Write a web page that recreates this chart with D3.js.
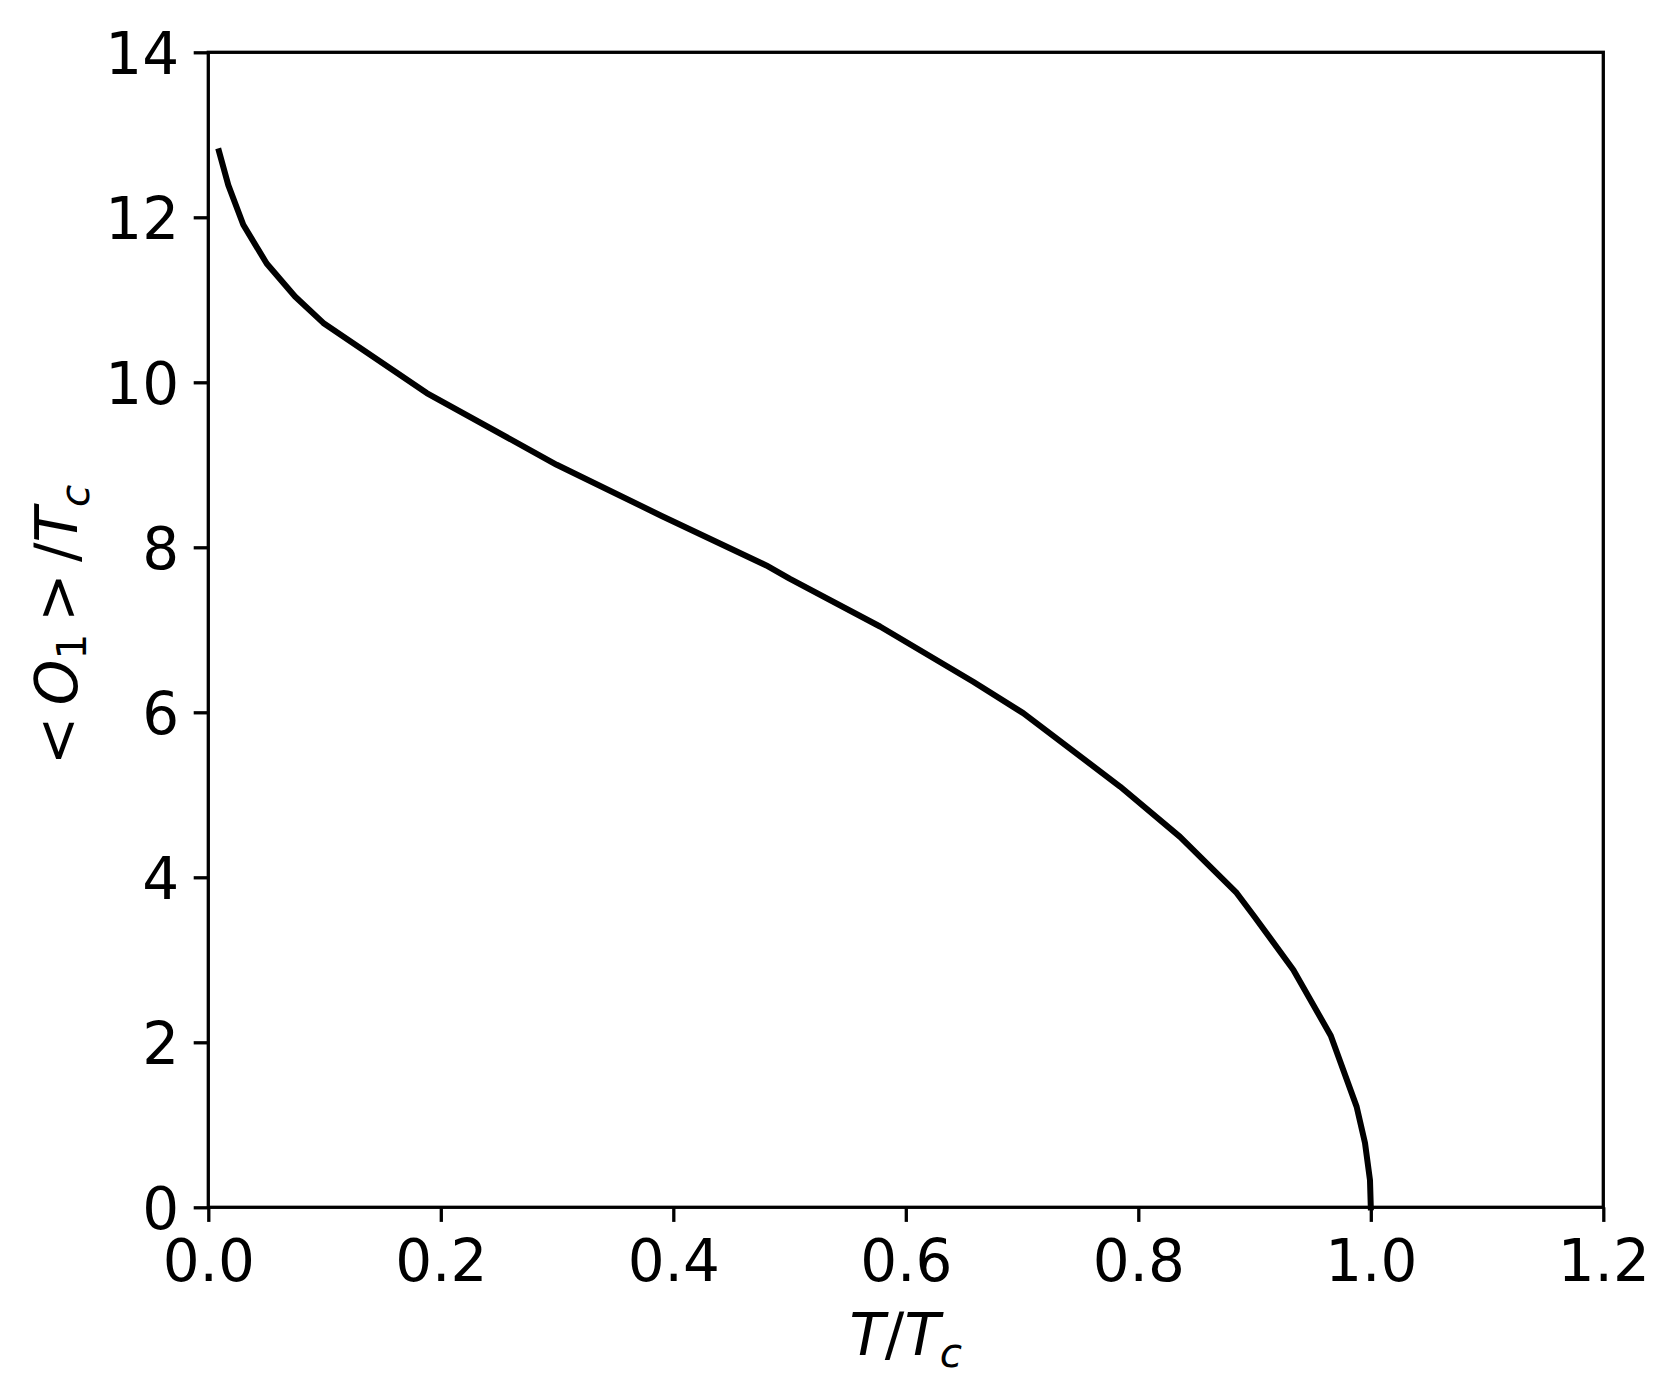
<!DOCTYPE html>
<html>
<head>
<meta charset="utf-8">
<script src="https://cdn.jsdelivr.net/npm/d3@7"></script>
<style>
  html, body { margin: 0; padding: 0; background: #fff; }
  svg { display: block; }
  text { font-family: "DejaVu Sans", sans-serif; fill: #000; }
</style>
</head>
<body>
<svg id="chart" width="1679" height="1398"></svg>
<script>
// Data
const tValues = [0.0092, 0.0172, 0.0301, 0.0502, 0.0746, 0.0989, 0.1879, 0.2997, 0.39, 0.48, 0.5, 0.5778, 0.658, 0.701, 0.7843, 0.8359, 0.8846, 0.899, 0.9333, 0.9656, 0.9878, 0.995, 0.9993, 1.0];
const oValues = [12.80, 12.39, 11.91, 11.44, 11.04, 10.72, 9.87, 9.00, 8.38, 7.78, 7.62, 7.04, 6.37, 5.99, 5.10, 4.49, 3.81, 3.54, 2.88, 2.08, 1.22, 0.78, 0.33, 0.0];
const xTicks = [0.0, 0.2, 0.4, 0.6, 0.8, 1.0, 1.2];
const yTicks = [0, 2, 4, 6, 8, 10, 12, 14];

const svg = d3.select("#chart");
const L = 208.3, R = 1603.3, T = 52.3, B = 1207.3;
const fontPx = 58;
const tickLen = 14.6, tickPad = 14.6;

const x = d3.scaleLinear().domain([0, 1.2]).range([L, R]);
const y = d3.scaleLinear().domain([0, 14]).range([B, T]);

// curve
const pts = tValues.map((t, i) => [t, oValues[i]]);
svg.append("path")
  .datum(pts)
  .attr("fill", "none")
  .attr("stroke", "#000")
  .attr("stroke-width", 6)
  .attr("stroke-linejoin", "round")
  .attr("stroke-linecap", "square")
  .attr("d", d3.line().x(d => x(d[0])).y(d => y(d[1])));

// axes
const xAxis = svg.append("g")
  .attr("transform", `translate(0,${B})`)
  .call(d3.axisBottom(x).tickValues(xTicks).tickFormat(d3.format(".1f")).tickSize(tickLen).tickPadding(tickPad));
const yAxis = svg.append("g")
  .attr("transform", `translate(${L},0)`)
  .call(d3.axisLeft(y).tickValues(yTicks).tickFormat(d3.format("d")).tickSize(tickLen).tickPadding(tickPad));

[xAxis, yAxis].forEach(g => {
  g.select(".domain").remove();
  g.selectAll(".tick line").attr("stroke", "#000").attr("stroke-width", 3.3);
  g.selectAll(".tick text").attr("font-size", fontPx).attr("font-family", "DejaVu Sans").attr("fill", "#000");
});
yAxis.selectAll(".tick text").attr("dy", "0.36em");
xAxis.selectAll(".tick text").attr("dy", "0.76em");

// frame
svg.append("rect")
  .attr("x", L).attr("y", T).attr("width", R - L).attr("height", B - T)
  .attr("fill", "none").attr("stroke", "#000").attr("stroke-width", 3.3)
  .attr("stroke-linecap", "square");

// x label: T/T_c
const xl = svg.append("text")
  .attr("x", (L + R) / 2).attr("y", 1355)
  .attr("text-anchor", "middle")
  .attr("font-size", fontPx);
xl.append("tspan").attr("font-style", "italic").text("T");
xl.append("tspan").text("/");
xl.append("tspan").attr("font-style", "italic").text("T");
xl.append("tspan").attr("font-style", "italic").attr("font-size", fontPx * 0.7).attr("dy", 12).text("c");

// y label: < O_1 > / T_c
const yl = svg.append("text")
  .attr("transform", `translate(77,625) rotate(-90)`)
  .attr("text-anchor", "middle")
  .attr("font-size", fontPx);
yl.append("tspan").text("<\u2009");
yl.append("tspan").attr("font-style", "italic").text("O");
yl.append("tspan").attr("font-size", fontPx * 0.7).attr("dy", 9).text("1");
yl.append("tspan").attr("dy", -9).text("\u2009>\u2009/");
yl.append("tspan").attr("font-style", "italic").text("T");
yl.append("tspan").attr("font-style", "italic").attr("font-size", fontPx * 0.7).attr("dy", 12).text("c");
</script>
</body>
</html>
